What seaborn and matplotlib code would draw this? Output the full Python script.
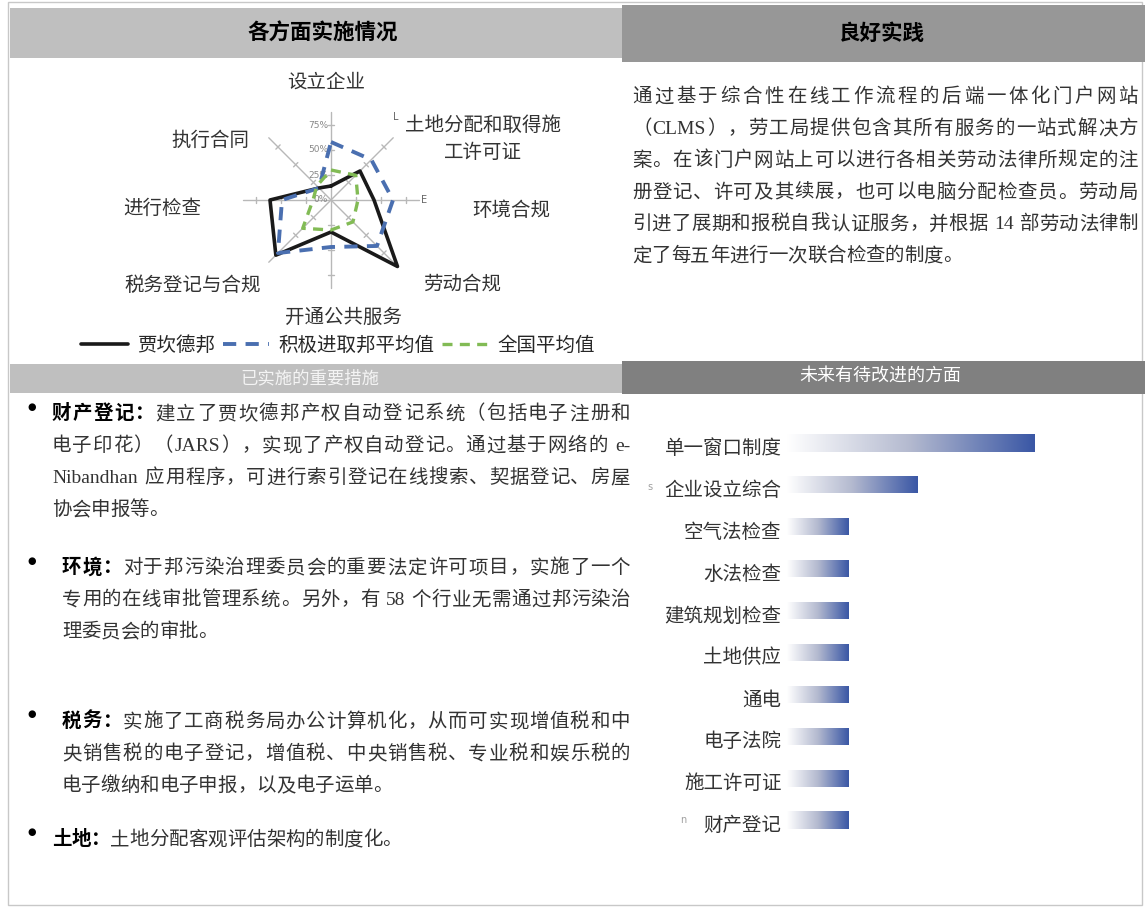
import re
import numpy as np
import matplotlib
matplotlib.use('Agg')
import matplotlib.pyplot as plt
import seaborn as sns
from matplotlib.patches import Rectangle
from matplotlib.colors import LinearSegmentedColormap
from matplotlib.font_manager import FontProperties
from matplotlib import transforms

W, H = 1145, 913

# radar data (percent)
radar_axes = ['设立企业', '土地分配和取得施工许可证', '环境合规', '劳动合规',
              '开通公共服务', '税务登记与合规', '进行检查', '执行合同']
jharkhand = [14, 41, 43, 94, 32, 78, 61, 17]
aspiring = [58, 57, 62, 65, 47, 75, 49, 17]
national = [30, 35, 27, 31, 30, 40, 18, 20]
series_names = ['贾坎德邦', '积极进取邦平均值', '全国平均值']
radar_ticks = [0, 25, 50, 75]
tick_labels = ['0%', '25%', '50%', '75%']

# improvement bars
improve_labels = ['单一窗口制度', '企业设立综合', '空气法检查', '水法检查', '建筑规划检查',
                  '土地供应', '通电', '电子法院', '施工许可证', '财产登记']
improve_values = [4.0, 2.1, 1.0, 1.0, 1.0, 1.0, 1.0, 1.0, 1.0, 1.0]

headers = ['各方面实施情况', '良好实践', '已实施的重要措施', '未来有待改进的方面']

practice_lines = [
    '通过基于综合性在线工作流程的后端一体化门户网站',
    '（CLMS），劳工局提供包含其所有服务的一站式解决方',
    '案。在该门户网站上可以进行各相关劳动法律所规定的注',
    '册登记、许可及其续展，也可以电脑分配检查员。劳动局',
    '引进了展期和报税自我认证服务，并根据 14 部劳动法律制',
    '定了每五年进行一次联合检查的制度。',
]

measures = [
    ('财产登记：', ['建立了贾坎德邦产权自动登记系统（包括电子注册和',
                '电子印花）（JARS），实现了产权自动登记。通过基于网络的 e-',
                'Nibandhan 应用程序，可进行索引登记在线搜索、契据登记、房屋',
                '协会申报等。']),
    ('环境：', ['对于邦污染治理委员会的重要法定许可项目，实施了一个',
              '专用的在线审批管理系统。另外，有 58 个行业无需通过邦污染治',
              '理委员会的审批。']),
    ('税务：', ['实施了工商税务局办公计算机化，从而可实现增值税和中',
              '央销售税的电子登记，增值税、中央销售税、专业税和娱乐税的',
              '电子缴纳和电子申报，以及电子运单。']),
    ('土地：', ['土地分配客观评估架构的制度化。']),
]

sns.set_theme(style='white')
CJK = ['Noto Sans CJK SC', 'DejaVu Sans']
BODY = ['Liberation Serif', 'Noto Sans CJK SC', 'DejaVu Sans']
plt.rcParams['font.family'] = CJK

fig = plt.figure(figsize=(W / 100, H / 100), dpi=100)
fig.patch.set_facecolor('white')


def fx(x):
    return x / W


def fy(y):
    return 1 - y / H


def box(x0, y0, x1, y1, color):
    fig.add_artist(Rectangle((fx(x0), fy(y1)), (x1 - x0) / W, (y1 - y0) / H,
                             transform=fig.transFigure, facecolor=color,
                             edgecolor='none', zorder=0))


# outer frame
fig.add_artist(Rectangle((fx(8), fy(905)), (1142 - 8) / W, (905 - 2) / H,
                         transform=fig.transFigure, fill=False,
                         edgecolor='#c8c8c8', lw=1, zorder=0))

# section headers
box(10, 8, 622, 58, '#bfbfbf')
box(622, 5, 1145, 62, '#979797')
box(10, 364, 622, 393, '#bfbfbf')
box(622, 361, 1145, 394, '#808080')
fig.text(fx(323), fy(33), headers[0], ha='center', va='center', fontsize=15.5,
         fontweight='bold', color='black')
fig.text(fx(882), fy(33), headers[1], ha='center', va='center', fontsize=15.5,
         fontweight='bold', color='black')
fig.text(fx(310), fy(378), headers[2], ha='center', va='center', fontsize=12.5,
         color='#f4f4f4')
fig.text(fx(880), fy(376), headers[3], ha='center', va='center', fontsize=13,
         color='white')

# ---------------- radar ----------------
cx, cy, R = 331, 200, 100
ax = fig.add_axes([fx(cx - R), fy(cy + R), 2 * R / W, 2 * R / H], projection='polar')
ax.set_theta_zero_location('N')
ax.set_theta_direction(-1)
ax.set_facecolor('none')
ax.spines['polar'].set_visible(False)
ax.grid(False)
ax.set_xticks([])
ax.set_yticks([])
ax.set_ylim(0, 100)

angles = np.arange(len(radar_axes)) * 2 * np.pi / len(radar_axes)
for a in angles:
    ax.plot([a, a], [0, 88], color='#b8b8b8', lw=1, zorder=1)
    for r in radar_ticks[1:]:
        ax.plot([a - 3.0 / r, a + 3.0 / r], [r, r], color='#b8b8b8', lw=1, zorder=1)

lbl_tr = transforms.offset_copy(ax.transData, fig=fig, x=-3, y=0, units='dots')
for r, t in zip(radar_ticks, tick_labels):
    ax.text(0, r, t, transform=lbl_tr, ha='right', va='center', fontsize=6.5,
            color='#888888', fontfamily=['DejaVu Sans'])

theta_c = np.append(angles, angles[0])
styles = [
    (jharkhand, '#1a1a1a', '-', 2.6),
    (aspiring, '#4a6fb0', (0, (3.4, 2.4)), 2.8),
    (national, '#82bb55', (0, (3.0, 2.2)), 2.4),
]
for (vals, col, ls, lw), name in zip(styles, series_names):
    sns.lineplot(x=theta_c, y=np.append(vals, vals[0]), ax=ax, sort=False,
                 estimator=None, color=col, linestyle=ls, linewidth=lw,
                 label=name, zorder=3)
ax.set_xlabel('')
ax.set_ylabel('')
ax.set_xticks([])
ax.set_yticks([])
ax.set_ylim(0, 100)

ax.legend(loc='center', bbox_to_anchor=(fx(338), fy(345)),
          bbox_transform=fig.transFigure, ncol=3, frameon=False,
          prop=FontProperties(family=CJK, size=14), handlelength=2.4,
          handletextpad=0.45, columnspacing=0.4)

# radar axis labels
radar_label_pos = [(326, 82), (483, 139), (511, 210), (462, 285),
                   (343, 317), (193, 285), (162, 208), (210, 140)]
for name, (x, y) in zip(radar_axes, radar_label_pos):
    txt = name if len(name) < 9 else name[:8] + '\n' + name[8:]
    fig.text(fx(x), fy(y), txt, ha='center', va='center', fontsize=14,
             color='#333333', linespacing=1.4)
fig.text(fx(396), fy(117), 'L', ha='center', va='center', fontsize=7, color='#666666',
         fontfamily=['DejaVu Sans'])
fig.text(fx(424), fy(200), 'E', ha='center', va='center', fontsize=7, color='#666666',
         fontfamily=['DejaVu Sans'])

# ---------------- gradient bars ----------------
ax2 = fig.add_axes([fx(787), fy(841), 310 / W, 419 / H])
sns.barplot(x=improve_values, y=improve_labels, orient='h', ax=ax2, width=0.41,
            color='#3a57a5')
cmap = LinearSegmentedColormap.from_list('fade', ['#ffffff', '#b3b9cf', '#3a57a5'])
grad = np.linspace(0, 1, 256).reshape(1, -1)
for p in list(ax2.patches):
    x0, y0, w, h = p.get_x(), p.get_y(), p.get_width(), p.get_height()
    p.set_facecolor('none')
    p.set_edgecolor('none')
    im = ax2.imshow(grad, extent=[x0, x0 + w, y0 + h, y0], aspect='auto', cmap=cmap,
                    zorder=2, interpolation='bilinear')
    im.set_clip_path(p)
ax2.set_xlim(0, 5)
ax2.set_ylim(9.5, -0.5)
ax2.set_facecolor('none')
for s in ax2.spines.values():
    s.set_visible(False)
ax2.set_xticks([])
ax2.set_xlabel('')
ax2.set_ylabel('')
ax2.tick_params(axis='y', length=0, pad=4, labelsize=14, labelcolor='#333333')
shift = transforms.ScaledTranslation(0, -3 / 100, fig.dpi_scale_trans)
for lab in ax2.get_yticklabels():
    lab.set_transform(lab.get_transform() + shift)
fig.text(fx(650), fy(487), 's', ha='center', va='center', fontsize=7, color='#a0a0a0',
         fontfamily=['DejaVu Sans'])
fig.text(fx(683), fy(820), 'n', ha='center', va='center', fontsize=7, color='#a0a0a0',
         fontfamily=['DejaVu Sans'])

# ---------------- justified body text ----------------
renderer = fig.canvas.get_renderer()
SIZE = 14
EM = SIZE * 100 / 72


def tok_width(tok, fp):
    if tok == ' ':
        return EM * 0.28
    if ord(tok[0]) > 0x2E80:
        return EM
    return renderer.get_text_width_height_descent(tok, fp, ismath=False)[0]


def line(segs, x0, yc, x1=None, color='#333333'):
    toks = []
    for text, bold in segs:
        fp = FontProperties(family=BODY, size=SIZE, weight='bold' if bold else 'normal')
        for t in re.findall(r'[A-Za-z0-9\-]+| |.', text):
            toks.append((t, bold, fp, tok_width(t, fp)))
    total = sum(t[3] for t in toks)
    gap = 0 if x1 is None else (x1 - x0 - total) / (len(toks) - 1)
    base = yc + 0.37 * EM
    x = x0
    for t, bold, fp, w in toks:
        if t != ' ':
            fig.text(fx(x), fy(base), t, ha='left', va='baseline', fontproperties=fp,
                     color='black' if bold else color)
        x += w + gap


# good practice paragraph
for i, s in enumerate(practice_lines):
    y = 95 + i * 31.8
    line([(s, False)], 632, y, None if i == len(practice_lines) - 1 else 1138)

# implemented measures
starts = [(52, 412), (62, 566), (62, 720), (52, 838)]
bullet_y = [407, 561, 714, 832]
for (head, rows), (x0, y0), by in zip(measures, starts, bullet_y):
    fig.text(fx(32), fy(by), '●', ha='center', va='center', fontsize=7,
             color='black', fontfamily=['DejaVu Sans'])
    for j, row in enumerate(rows):
        segs = [(head, True), (row, False)] if j == 0 else [(row, False)]
        last = j == len(rows) - 1
        line(segs, x0, y0 + j * 32, None if last else 630)

fig.savefig('out.png', dpi=100, facecolor='white')
